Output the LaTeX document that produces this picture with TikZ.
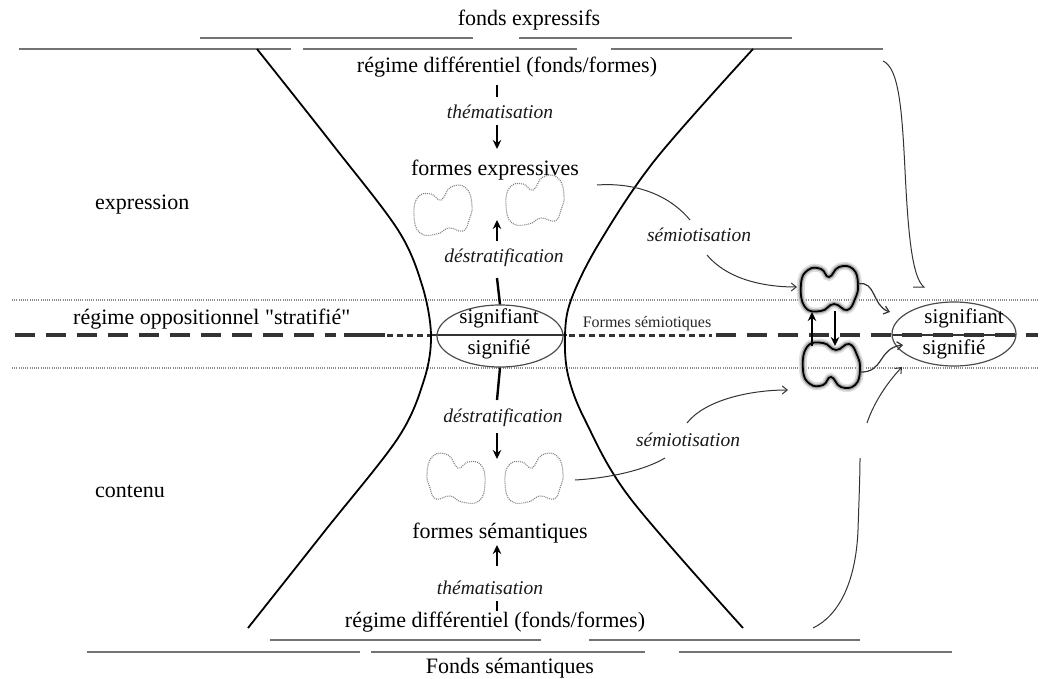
\documentclass[tikz,border=0pt]{standalone}
\usepackage{fontspec}
\setmainfont{Liberation Serif}[Ligatures=TeXOff]
\usetikzlibrary{arrows.meta,shapes.geometric}
\begin{document}
\begin{tikzpicture}[x=1pt,y=-1pt,
  lbl/.style={font=\fontsize{22}{24}\selectfont, text=black, inner sep=0pt},
  sig/.style={font=\fontsize{21}{23}\selectfont, text=black, inner sep=0pt},
  itl/.style={font=\fontsize{19.5}{21}\selectfont\itshape, text=black!90, inner sep=0pt},
  fondline/.style={line width=2.5pt, black!55},
  dotline/.style={black!45, line width=1.2pt, dash pattern=on 1pt off 1.2pt},
  hyper/.style={line width=1.8pt, black},
  vline/.style={line width=2.4pt, black},
  varrow/.style={vline, -{Stealth[length=9pt,width=8.5pt]}},
  thinarrow/.style={line width=1pt, black!80, -{Straight Barb[length=5pt,width=8pt]}},
  thinline/.style={line width=1pt, black!80},
  dotblob/.style={black!50, line width=1.1pt, dash pattern=on 1pt off 1pt},
  longdash/.style={line width=3.4pt, black!80, dash pattern=on 20pt off 11pt},
  shortdash/.style={line width=3pt, black!80, dash pattern=on 6pt off 4pt},
  ellip/.style={ellipse, draw=black!70, line width=1.2pt, minimum width=126pt, minimum height=62pt, inner sep=0pt},
  blob/.pic={\draw[pic actions] plot[smooth cycle, tension=0.8] coordinates {(-29,5) (-25,-13) (-12,-16) (-2,-10) (8,-23) (23,-22) (29,-5) (26,10) (20,21) (6,18) (-6,24) (-23,23)};},
  peanut/.pic={\draw[pic actions] plot[smooth cycle, tension=0.8] coordinates {(-28,-5) (-21,-19) (-8,-20) (0,-12) (10,-22) (24,-20) (29,-5) (26,10) (18,21) (5,15) (-8,22) (-24,18)};}
]
\useasboundingbox (0,0) rectangle (1041,679);

% fond lines top
\draw[fondline] (200,38) -- (473,38);
\draw[fondline] (519,38) -- (792,38);
\draw[fondline] (19,49) -- (291,49);
\draw[fondline] (303,49) -- (577,49);
\draw[fondline] (611,49) -- (883,49);
% fond lines bottom
\draw[fondline] (270,640) -- (541,640);
\draw[fondline] (589,640) -- (860,640);
\draw[fondline] (87,652) -- (360,652);
\draw[fondline] (371,652) -- (645,652);
\draw[fondline] (679,652) -- (952,652);

% dotted strata lines
\draw[dotline] (12,300) -- (1038,300);
\draw[dotline] (12,368) -- (1038,368);

% thick dashed line
\draw[longdash] (15,335) -- (336,335);
\draw[line width=3.2pt, black!80] (344,335) -- (385,335);
\draw[shortdash] (387,335) -- (432,335);
\draw[line width=2.4pt, black!80] (432,335) -- (567,335);
\draw[shortdash] (569,335) -- (712,335);
\draw[longdash] (716,335) -- (1038,335);
\draw[line width=2.4pt, black!80] (892,335) -- (1016,335);

% hyperbola-like curves
\draw[hyper] plot[smooth, tension=0.55] coordinates {(257,49) (333,145) (398,230) (422,285) (431,335) (424,380) (398,438) (324,532) (248,628)};
\draw[hyper] plot[smooth, tension=0.55] coordinates {(753,49) (655,160) (598,245) (571,300) (565,335) (568,375) (585,420) (630,498) (743,628)};

% ellipses
\node[ellip] (e1) at (500,336) {};
\node[sig] (sa1) at (499,318) {signifiant};
\node[sig] (se1) at (499,349) {signifié};
\node[ellip, minimum width=124pt, minimum height=64pt] (e2) at (954,334) {};
\node[sig] (sa2) at (964,318) {signifiant};
\node[sig] (se2) at (954,349) {signifié};

% labels
\node[lbl] (fe) at (529,20) {fonds expressifs};
\node[lbl] (rd1) at (507,67) {régime différentiel (fonds/formes)};
\node[itl] (th1) at (500,112) {thématisation};
\node[lbl] (fex) at (495,170) {formes expressives};
\node[itl] (ds1) at (504,258) {déstratification};
\node[lbl, anchor=west] (expr) at (95,205) {expression};
\node[lbl, anchor=west] (ro) at (73,319) {régime oppositionnel "stratifié"};
\node[lbl, anchor=west] (cont) at (95,491) {contenu};
\node[itl] (ds2) at (503,418) {déstratification};
\node[lbl] (fsem) at (500,533) {formes sémantiques};
\node[itl] (th2) at (490,588) {thématisation};
\node[lbl] (rd2) at (495,622) {régime différentiel (fonds/formes)};
\node[lbl] (fs) at (510,668) {Fonds sémantiques};
\node[font=\fontsize{16}{18}\selectfont, text=black!85, inner sep=0pt] (fsemio) at (647,324) {Formes sémiotiques};
\node[itl] (sem1) at (699,235) {sémiotisation};
\node[itl] (sem2) at (688,440) {sémiotisation};

% central vertical axis
\coordinate (a1) at (497,85); \coordinate (a2) at (497,97);
\draw[vline] (a1) -- (a2);
\coordinate (b1) at (497,125); \coordinate (b2) at (497,149);
\draw[varrow] (b1) -- (b2);
\coordinate (c1) at (497,241); \coordinate (c2) at (497,220);
\draw[varrow] (c1) -- (c2);
\coordinate (d1) at (497,278);
\draw[vline] (d1) -- (e1.north);
\coordinate (f1) at (497,400);
\draw[vline] (e1.south) -- (f1);
\coordinate (g1) at (497,433); \coordinate (g2) at (497,459);
\draw[varrow] (g1) -- (g2);
\coordinate (h1) at (497,566); \coordinate (h2) at (497,545);
\draw[varrow] (h1) -- (h2);
\coordinate (i1) at (497,601); \coordinate (i2) at (497,611);
\draw[vline] (i1) -- (i2);

% dotted blobs
\pic[dotblob] at (443,210) {blob};
\pic[dotblob] at (535,200) {blob};
\pic[dotblob, xscale=-1] at (456,478) {blob};
\pic[dotblob] at (534,478) {blob};

% dark blobs with glow
\pic[draw=black!12, line width=8pt] at (829,289) {peanut};
\pic[draw=black!35, line width=4.5pt] at (829,289) {peanut};
\pic[draw=black, line width=1.8pt] at (829,289) {peanut};
\pic[draw=black!12, line width=8pt, yscale=-1] at (831,365) {peanut};
\pic[draw=black!35, line width=4.5pt, yscale=-1] at (831,365) {peanut};
\pic[draw=black, line width=1.8pt, yscale=-1] at (831,365) {peanut};
\coordinate (ub) at (797,287);
\coordinate (lb) at (788,390);
\coordinate (ubr) at (858,284);
\coordinate (lbr) at (860,372);

% vertical arrows between dark blobs
\coordinate (u1) at (812,346); \coordinate (u2) at (812,312);
\draw[varrow, line width=1.9pt] (u1) -- (u2);
\coordinate (v1) at (835,311); \coordinate (v2) at (835,346);
\draw[varrow, line width=1.9pt] (v1) -- (v2);

% semiotisation arrows
\coordinate (s1) at (597,185);
\coordinate (s1e) at (690,220);
\coordinate (s1b) at (707,255);
\draw[thinline] (s1) .. controls (640,182) and (672,198) .. (s1e);
\draw[thinarrow] (s1b) .. controls (728,280) and (765,287) .. (ub);
\coordinate (s2) at (575,480);
\coordinate (s2e) at (665,458);
\coordinate (s2b) at (687,423);
\draw[thinline] (s2) .. controls (610,478) and (645,470) .. (s2e);
\draw[thinarrow] (s2b) .. controls (705,400) and (750,390) .. (lb);

% wavy arrows to signifiant / signifie
\coordinate (w1) at (890,312);
\draw[thinarrow, line width=1.2pt] (ubr) .. controls (876,280) and (872,306) .. (w1);
\coordinate (w2) at (903,345);
\draw[thinarrow, line width=1.2pt] (lbr) .. controls (884,373) and (878,348) .. (w2);

% right-hand long curves
\coordinate (r1) at (883,61);
\coordinate (r2) at (924,287);
\coordinate (r3) at (913,287);
\draw[thinline] (r1) .. controls (899,68) and (902,110) .. (905,170) .. controls (908,232) and (912,278) .. (r2) -- (r3);
\coordinate (q1) at (813,628);
\coordinate (q2) at (860,458);
\draw[thinline] (q1) .. controls (840,615) and (856,580) .. (858,530) .. controls (859,500) and (860,475) .. (q2);
\coordinate (q3) at (867,423);
\coordinate (q4) at (902,367);
\draw[thinarrow] (q3) .. controls (873,405) and (885,385) .. (q4);

\end{tikzpicture}
\end{document}
